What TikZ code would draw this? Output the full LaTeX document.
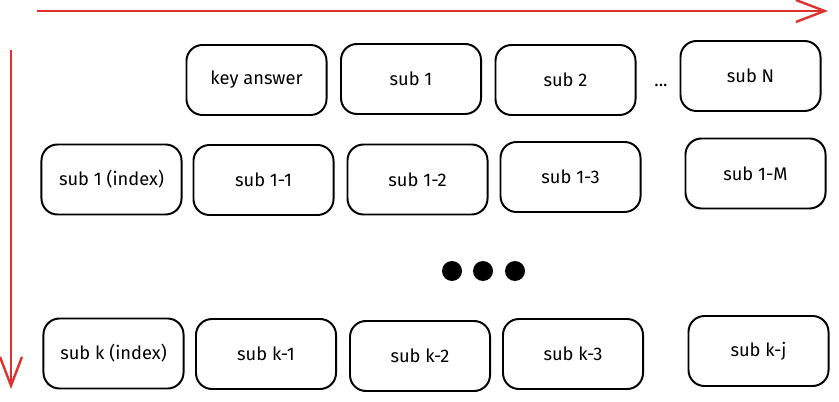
\documentclass[tikz,border=0pt]{standalone}
\usepackage{fontspec}
\setmainfont{Fira Sans}
\usepackage{xcolor}
\usepackage{tikz}
\usetikzlibrary{arrows.meta}
\definecolor{sketchred}{HTML}{E03131}

\begin{document}
\begin{tikzpicture}[x=0.025cm,y=0.025cm,
	cell/.style={draw,line width=1.4pt,rounded corners=0.4cm,minimum width=3.5cm,minimum height=1.75cm,font=\fontsize{13}{15}\selectfont},
	axis/.style={sketchred,line width=1.7pt,-{Straight Barb[length=0.72cm,width=0.55cm]}}]
	\useasboundingbox (0,0) rectangle (839,401);
	\coordinate (xs) at (37,390);
	\coordinate (xe) at (828,390);
	\draw[axis] (xs)--(xe);
	\coordinate (ys) at (11,351);
	\coordinate (ye) at (11,12);
	\draw[axis] (ys)--(ye);
	\node[cell] (ka) at (256.5,321) {key answer};
	\node[cell] (s1) at (411,322) {sub 1};
	\node[cell] (s2) at (565.5,321) {sub 2};
	\node[font=\fontsize{13}{15}\selectfont] (dd) at (661,316) {...};
	\node[cell] (sN) at (750.5,325) {sub N};
	\node[cell] (i1) at (111.5,221.5) {sub 1 (index)};
	\node[cell] (c11) at (263.5,221) {sub 1-1};
	\node[cell] (c12) at (417.5,221.5) {sub 1-2};
	\node[cell] (c13) at (570.5,224) {sub 1-3};
	\node[cell] (c1M) at (755.5,227.5) {sub 1-M};
	\fill (452,130) circle (10);
	\fill (483,130) circle (10);
	\fill (515,130) circle (10);
	\node[cell] (ik) at (113.5,47.5) {sub k (index)};
	\node[cell] (ck1) at (266,47) {sub k-1};
	\node[cell] (ck2) at (420,45) {sub k-2};
	\node[cell] (ck3) at (573,47) {sub k-3};
	\node[cell] (ckj) at (758.5,50) {sub k-j};
\end{tikzpicture}
\end{document}
